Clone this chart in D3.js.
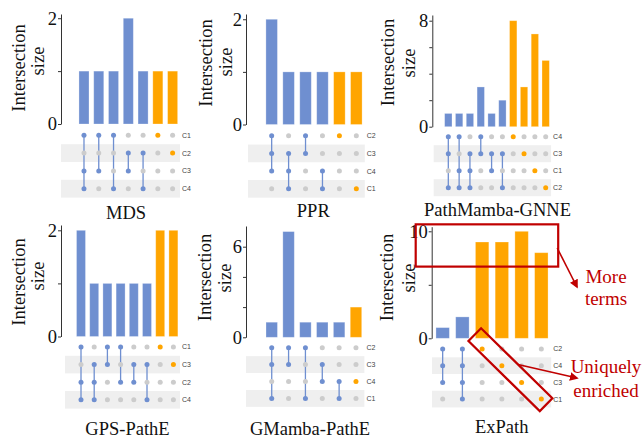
<html>
<head>
<title>upset</title>
</head>
<script src="https://d3js.org/d3.v7.min.js"></script>
<body style="margin:0;background:#fff">
<svg class="chart"></svg>
<script>

    // data
    var titles = ["MDS", "PPR", "PathMamba-GNNE", "GPS-PathE", "GMamba-PathE", "ExPath"];

    var setOrders = [
        ["C1", "C2", "C3", "C4"],
        ["C2", "C3", "C4", "C1"],
        ["C4", "C3", "C1", "C2"],
        ["C1", "C3", "C2", "C4"],
        ["C2", "C3", "C4", "C1"],
        ["C2", "C4", "C3", "C1"]
    ];

    var sizes = [
        [1, 1, 1, 2, 1, 1, 1],
        [2, 1, 1, 1, 1, 1],
        [1, 1, 1, 3, 1, 2, 8, 3, 7, 5],
        [2, 1, 1, 1, 1, 1, 2, 2],
        [1, 7, 1, 1, 1, 2],
        [1, 2, 9, 9, 10, 8]
    ];

    var members = [
        [["C1", "C3", "C4"], ["C1", "C3"], ["C1", "C4"], ["C2", "C3"], ["C2", "C4"], ["C1"], ["C2"]],
        [["C2", "C3", "C4"], ["C3", "C4", "C1"], ["C2", "C3"], ["C4", "C1"], ["C2"], ["C1"]],
        [["C4", "C3", "C2"], ["C4", "C1", "C2"], ["C3", "C1", "C2"], ["C4", "C3"], ["C3", "C1"], ["C3", "C2"], ["C4"], ["C3"], ["C1"], ["C2"]],
        [["C1", "C2", "C4"], ["C3", "C2", "C4"], ["C1", "C3"], ["C1", "C2"], ["C3", "C2"], ["C3", "C4"], ["C1"], ["C3"]],
        [["C2", "C3", "C1"], ["C2", "C3"], ["C2", "C1"], ["C3", "C4"], ["C4", "C1"], ["C4"]],
        [["C2", "C4", "C3"], ["C2", "C4", "C3", "C1"], ["C2"], ["C4"], ["C3"], ["C1"]]
    ];

    var tickValues = [[0, 1, 2], [0, 1, 2], [0, 2, 4, 6, 8], [0, 1, 2], [0, 2, 4, 6], [0, 5, 10]];
    var tickLabels = [[0, 2], [0, 2], [0, 8], [0, 2], [0, 6], [0, 10]];

    // layout of each panel
    var layout = [
        {axisX: 61, zero: 124, top: 14, topVal: 2.08, xr: [76.6, 180], bandX: 61, rowY: 135.3, rowStep: 17.8,
            yl1: [25, 68], yl2: [44, 61], title: [126, 219]},
        {axisX: 246, zero: 124.5, top: 14, topVal: 2.1, xr: [263.2, 364.8], bandX: 248, rowY: 135.7, rowStep: 17.7,
            yl1: [211.7, 63], yl2: [232.3, 62], title: [313.3, 216.7]},
        {axisX: 432.3, zero: 126.7, top: 15, topVal: 8.43, xr: [442.9, 551.1], bandX: 433.7, rowY: 136.7, rowStep: 17,
            yl1: [394, 62.5], yl2: [415, 63], title: [497.5, 216]},
        {axisX: 61, zero: 336.5, top: 225, topVal: 2.1, xr: [74.4, 180], bandX: 65, rowY: 347, rowStep: 17.6,
            yl1: [25, 282], yl2: [44, 276], title: [127.5, 434.5]},
        {axisX: 246, zero: 337.3, top: 226, topVal: 7.37, xr: [263.3, 364.4], bandX: 246, rowY: 347.7, rowStep: 16.9,
            yl1: [210.7, 277.5], yl2: [231, 278], title: [310, 434.5]},
        {axisX: 431.7, zero: 338.3, top: 226.7, topVal: 10.43, xr: [432.8, 551.2], bandX: 432, rowY: 349, rowStep: 16.7,
            yl1: [393.3, 277.5], yl2: [415, 278], title: [501.7, 433]}
    ];

    var blue = '#6f8fd0', orange = '#ffa500', gray = '#cccccc', band = '#efefef', red = '#c00000';
    var serif = '"Liberation Serif", "Times New Roman", serif';

    var svg = d3.select('svg')
        .attr('width', 643)
        .attr('height', 438);

    svg.append('defs').append('marker')
        .attr('id', 'arrow')
        .attr('viewBox', '0 0 10 10')
        .attr('refX', 8).attr('refY', 5)
        .attr('markerWidth', 5.5).attr('markerHeight', 5.5)
        .attr('orient', 'auto')
        .append('path')
        .attr('d', 'M0,0 L10,5 L0,10 z')
        .attr('fill', red);

    var scales = [];

    titles.forEach(function (title, p) {
        var L = layout[p];
        var g = svg.append('g');
        var n = sizes[p].length;

        var x = d3.scaleBand()
            .domain(d3.range(n))
            .range(L.xr)
            .paddingInner(0.32)
            .paddingOuter(0.16);

        var y = d3.scaleLinear()
            .domain([0, L.topVal])
            .range([L.zero, L.top]);

        var row = d3.scaleBand()
            .domain(setOrders[p])
            .range([L.rowY - L.rowStep / 2, L.rowY + L.rowStep * 3.5]);

        scales.push({x: x, y: y, row: row});

        // alternating row bands
        g.selectAll('rect.band')
            .data(setOrders[p].filter(function (d, i) { return i % 2 == 1; }))
            .enter()
            .append('rect')
            .attr('x', L.bandX)
            .attr('y', function (d) { return row(d); })
            .attr('width', L.xr[1] - L.bandX)
            .attr('height', row.bandwidth())
            .attr('fill', band);

        // bars
        g.selectAll('rect.bar')
            .data(sizes[p])
            .enter()
            .append('rect')
            .attr('x', function (d, i) { return x(i); })
            .attr('y', function (d) { return y(d); })
            .attr('width', x.bandwidth())
            .attr('height', function (d) { return y(0) - y(d); })
            .attr('fill', function (d, i) { return members[p][i].length == 1 ? orange : blue; })
            .attr('stroke', '#fff')
            .attr('stroke-opacity', 0.35)
            .attr('stroke-width', 0.8);

        // y axis
        var axis = g.append('g')
            .attr('transform', 'translate(' + L.axisX + ',0)')
            .call(d3.axisLeft(y)
                .tickValues(tickValues[p])
                .tickSize(3)
                .tickSizeOuter(0)
                .tickPadding(1)
                .tickFormat(function (d) { return tickLabels[p].indexOf(d) >= 0 ? d : ''; }));
        axis.select('.domain').attr('stroke', '#333');
        axis.selectAll('.tick line').attr('stroke', '#333');
        axis.selectAll('.tick text')
            .attr('font-family', serif)
            .attr('font-size', 18.5)
            .attr('fill', '#111');

        // matrix dots and lines
        var rc = function (s) { return row(s) + row.bandwidth() / 2; };
        var xc = function (i) { return x(i) + x.bandwidth() / 2; };

        members[p].forEach(function (m, i) {
            var ys = m.map(rc);
            if (m.length > 1) {
                g.append('line')
                    .attr('x1', xc(i)).attr('x2', xc(i))
                    .attr('y1', d3.min(ys)).attr('y2', d3.max(ys))
                    .attr('stroke', blue)
                    .attr('stroke-width', 1.3);
            }
            g.selectAll(null)
                .data(setOrders[p])
                .enter()
                .append('circle')
                .attr('cx', xc(i))
                .attr('cy', function (s) { return rc(s); })
                .attr('r', 2.5)
                .attr('fill', function (s) {
                    if (m.indexOf(s) < 0) return gray;
                    return m.length == 1 ? orange : blue;
                });
        });

        // set labels
        g.selectAll('text.set')
            .data(setOrders[p])
            .enter()
            .append('text')
            .attr('x', L.xr[1] + 2)
            .attr('y', function (s) { return rc(s); })
            .attr('dy', '0.35em')
            .attr('font-family', '"Liberation Sans", Arial, sans-serif')
            .attr('font-size', 7)
            .attr('fill', '#444')
            .text(function (s) { return s; });

        // y label
        [['Intersection', L.yl1], ['size', L.yl2]].forEach(function (t) {
            g.append('text')
                .attr('transform', 'translate(' + t[1][0] + ',' + t[1][1] + ') rotate(-90)')
                .attr('text-anchor', 'middle')
                .attr('font-family', serif)
                .attr('font-size', 18.5)
                .attr('fill', '#111')
                .text(t[0]);
        });

        // title
        g.append('text')
            .attr('x', L.title[0])
            .attr('y', L.title[1])
            .attr('text-anchor', 'middle')
            .attr('font-family', serif)
            .attr('font-size', 18.5)
            .attr('fill', '#111')
            .text(title);
    });

    // annotations on the ExPath panel
    var s = scales[5], L6 = layout[5];
    var ann = svg.append('g');

    ann.append('rect')
        .attr('x', L6.axisX - 16)
        .attr('y', s.y(10.65))
        .attr('width', L6.xr[1] + 7 - (L6.axisX - 16))
        .attr('height', s.y(6.7) - s.y(10.65))
        .attr('fill', 'none')
        .attr('stroke', red)
        .attr('stroke-width', 2.2);

    var uCols = [2, 5];
    var p0 = [s.x(uCols[0]) + s.x.bandwidth() / 2, s.row(setOrders[5][0]) + s.row.bandwidth() / 2];
    var p1 = [s.x(uCols[1]) + s.x.bandwidth() / 2, s.row(setOrders[5][3]) + s.row.bandwidth() / 2];
    var cx = (p0[0] + p1[0]) / 2 - 1.3, cy = (p0[1] + p1[1]) / 2 - 4.4;

    ann.append('rect')
        .attr('x', -50).attr('y', -9)
        .attr('width', 100).attr('height', 18)
        .attr('transform', 'translate(' + cx + ',' + cy + ') rotate(44.5)')
        .attr('fill', 'none')
        .attr('stroke', red)
        .attr('stroke-width', 2.2);

    ann.append('line')
        .attr('x1', L6.xr[1] + 6).attr('y1', 248)
        .attr('x2', 577).attr('y2', 287)
        .attr('stroke', red).attr('stroke-width', 1.6)
        .attr('marker-end', 'url(#arrow)');

    ann.append('line')
        .attr('x1', 518).attr('y1', 364.5)
        .attr('x2', 577).attr('y2', 378)
        .attr('stroke', red).attr('stroke-width', 1.6)
        .attr('marker-end', 'url(#arrow)');

    [['More', 283], ['terms', 305], ['Uniquely', 373], ['enriched', 396.7]].forEach(function (t) {
        ann.append('text')
            .attr('x', 606)
            .attr('y', t[1])
            .attr('text-anchor', 'middle')
            .attr('font-family', serif)
            .attr('font-size', 19)
            .attr('fill', red)
            .text(t[0]);
    });

</script>
</body>
</html>
